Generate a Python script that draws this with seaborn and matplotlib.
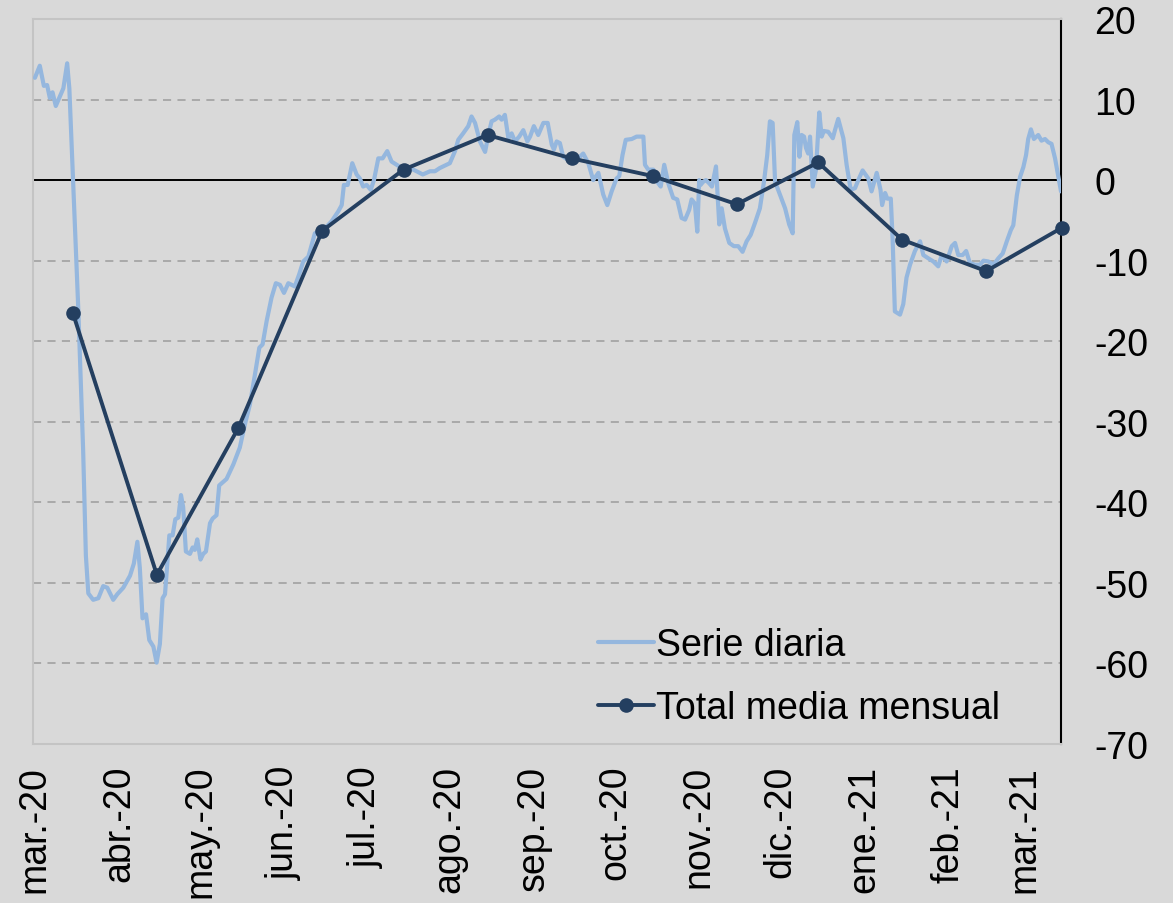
import pandas as pd
import numpy as np
import matplotlib
matplotlib.use('Agg')
import matplotlib.pyplot as plt
import seaborn as sns

# serie diaria: dias desde el 1 de marzo de 2020 y valor
start = pd.Timestamp('2020-03-01')
daily_day = [0, 1.8, 3.3, 4.5, 5.5, 6.5, 7.7, 10.5, 11.9, 12.7, 14.1, 16.0, 17.8, 18.8, 19.7,
             21.5, 23.4, 25.2, 26.7, 28.9, 30.4, 32.6, 35.1, 36.5, 37.8, 38.7, 39.7, 41.0, 42.2,
             43.7, 44.9, 46.1, 47.1, 48.0, 49.6, 50.8, 51.8, 52.9, 53.9, 54.7, 55.7, 57.2, 58.2,
             59.0, 59.9, 61.1, 62.1, 63.1, 64.6, 65.6, 67.0, 68.0, 70.7, 73.2, 75.6, 77.5, 79.3,
             81.2, 82.8, 84.0, 85.5, 87.3, 88.9, 90.4, 91.9, 93.5, 95.9, 97.5, 99.0, 100.9, 103.3,
             106.4, 109.5, 111.9, 113.2, 114.0, 115.4, 117.1, 118.7, 119.9, 121.1, 122.4, 123.9,
             125.1, 126.7, 128.3, 130.0, 131.6, 133.5, 135.3, 138.4, 140.8, 143.1, 145.8, 147.6,
             149.4, 151.9, 153.1, 155.0, 156.2, 158.0, 159.9, 161.1, 162.4, 164.2, 166.1, 167.3,
             168.5, 169.7, 171.3, 172.2, 173.4, 174.7, 175.9, 177.1, 178.7, 180.2, 181.7, 182.7,
             184.1, 185.7, 187.6, 189.2, 190.7, 191.5, 192.5, 193.7, 194.9, 196.8, 198.6, 200.5,
             202.3, 204.2, 206.0, 207.9, 209.7, 211.2, 212.8, 214.6, 215.6, 216.8, 218.0, 220.2,
             222.0, 224.5, 225.1, 226.3, 228.2, 230.0, 230.9, 232.2, 233.7, 235.5, 237.0, 238.6,
             239.9, 241.4, 242.3, 243.5, 244.4, 245.1, 245.6, 246.6, 247.6, 248.8, 249.8, 251.3,
             252.5, 253.4, 254.6, 256.2, 257.9, 259.5, 261.1, 262.6, 264.1, 265.7, 267.5, 269.0,
             270.2, 271.2, 272.2, 273.1, 274.9, 276.8, 278.3, 279.6, 280.2, 281.3, 282.1, 282.9,
             283.8, 284.5, 285.3, 286.0, 287.0, 288.2, 289.4, 290.3, 291.1, 292.7, 294.4, 295.2,
             296.4, 298.3, 299.5, 301.0, 302.6, 303.8, 305.4, 307.5, 308.7, 310.6, 312.0, 312.6,
             313.7, 314.5, 315.8, 316.5, 317.3, 319.2, 320.4, 321.6, 322.9, 324.7, 326.6, 327.8,
             329.6, 331.5, 333.3, 334.6, 336.4, 338.3, 339.5, 340.7, 342.3, 343.6, 345.0, 346.9,
             348.7, 350.0, 351.8, 353.7, 355.5, 357.1, 358.6, 360.1, 361.0, 362.3, 363.5, 364.7,
             365.7, 366.5, 367.5, 368.6, 370.2, 371.4, 372.7, 373.9, 375.1, 376.4, 378.6]
daily_value = [12.7, 14.2, 11.7, 11.8, 10.2, 10.9, 9.2, 11.4, 14.5, 11.4, -0.1, -16.0, -33.6, -46.6, -51.3,
               -52.1, -51.9, -50.4, -50.6, -52.1, -51.4, -50.6, -49.1, -47.6, -44.9, -48.1, -54.4, -53.9, -57.1,
               -57.9, -59.9, -57.6, -51.9, -51.4, -44.1, -44.1, -42.1, -41.9, -39.1, -40.6, -46.1, -46.4, -45.6,
               -45.9, -44.6, -47.1, -46.4, -46.1, -42.6, -42.0, -41.6, -37.9, -37.1, -35.3, -33.2, -30.3, -27.9,
               -24.1, -20.8, -20.4, -17.5, -14.6, -12.8, -13.0, -14.0, -12.8, -13.2, -11.7, -10.1, -9.5, -6.6,
               -6.2, -5.1, -3.9, -3.1, -0.6, -0.6, 2.1, 0.7, 0.2, -0.8, -0.6, -1.2,
               0.0, 2.7, 2.7, 3.6, 2.3, 1.9, 1.5, 1.5, 1.1, 0.7, 1.1, 1.1,
               1.5, 1.9, 2.1, 3.6, 5.0, 5.8, 6.7, 7.9, 7.1, 4.8, 3.5, 5.6,
               7.3, 7.5, 7.9, 7.5, 8.1, 5.2, 5.8, 4.8, 5.4, 6.2, 4.8, 5.4,
               6.7, 5.6, 7.1, 7.1, 4.4, 3.8, 4.8, 4.6, 2.9, 2.5, 3.1, 2.7,
               3.3, 2.1, 0.0, 0.9, -1.8, -3.1, -1.4, 0.2, 0.5, 3.1, 5.0, 5.1,
               5.4, 5.4, 1.9, 1.3, 1.3, -0.4, -0.8, 1.9, -0.4, -2.2, -2.4, -4.7,
               -4.9, -3.7, -2.4, -2.9, -6.4, 0.0, -0.6, -0.2, 0.0, -0.4, -0.8, 1.7,
               -5.5, -3.5, -6.0, -7.8, -8.2, -8.2, -8.9, -7.6, -6.8, -5.3, -3.5, -0.2,
               3.1, 7.3, 7.1, -0.2, -1.8, -3.5, -5.5, -6.6, 5.6, 7.2, 2.9, 5.6,
               5.4, 4.0, 3.3, 5.4, -0.8, 1.3, 8.4, 5.4, 6.1, 6.0, 5.2, 6.2,
               7.6, 5.2, 1.9, -1.2, -1.0, 0.0, 1.2, 0.2, -1.4, 0.9, -1.2, -3.1,
               -1.6, -2.3, -2.3, -7.6, -16.3, -16.7, -15.4, -12.1, -10.5, -8.8, -7.6, -9.3,
               -9.7, -10.1, -10.7, -9.3, -10.1, -8.2, -7.8, -9.3, -9.3, -8.8, -10.3, -10.5,
               -10.5, -10.0, -10.1, -10.5, -9.7, -9.1, -7.6, -6.2, -5.6, -1.9, 0.4, 1.6,
               3.1, 5.1, 6.3, 5.1, 5.6, 4.9, 5.1, 4.7, 4.5, 2.7, -1.4]

# media mensual (a mitad de mes)
month_dates = ['2020-03-15', '2020-04-15', '2020-05-15', '2020-06-15', '2020-07-15', '2020-08-15',
               '2020-09-15', '2020-10-15', '2020-11-15', '2020-12-15', '2021-01-15', '2021-02-15',
               '2021-03-15']
month_value = [-16.5, -49.0, -30.8, -6.3, 1.3, 5.6, 2.7, 0.5, -3.0, 2.2, -7.4, -11.3, -5.9]

tick_dates = ['2020-03-01', '2020-04-01', '2020-05-01', '2020-06-01', '2020-07-01', '2020-08-01',
              '2020-09-01', '2020-10-01', '2020-11-01', '2020-12-01', '2021-01-01', '2021-02-01',
              '2021-03-01']
tick_labels = ['mar.-20', 'abr.-20', 'may.-20', 'jun.-20', 'jul.-20', 'ago.-20', 'sep.-20',
               'oct.-20', 'nov.-20', 'dic.-20', 'ene.-21', 'feb.-21', 'mar.-21']

daily = pd.DataFrame({'fecha': start + pd.to_timedelta(daily_day, unit='D'), 'valor': daily_value})
monthly = pd.DataFrame({'fecha': pd.to_datetime(month_dates), 'valor': month_value})

bg = '#d9d9d9'
light = '#95b7de'
navy = '#243f60'
fs = 27

sns.set_style('white', {'axes.facecolor': bg, 'figure.facecolor': bg})
plt.rcParams['font.family'] = ['Liberation Sans', 'DejaVu Sans']
plt.rcParams['axes.unicode_minus'] = False
plt.rcParams['text.color'] = 'black'

fig = plt.figure(figsize=(11.73, 9.04), dpi=100)
ax = fig.add_axes([33 / 1173, 1 - 745 / 904, (1061 - 33) / 1173, (745 - 20) / 904])

sns.lineplot(data=daily, x='fecha', y='valor', color=light, linewidth=3.0, label='Serie diaria', ax=ax, zorder=3)
sns.lineplot(data=monthly, x='fecha', y='valor', color=navy, linewidth=2.8, marker='o', markersize=10.5,
             markeredgewidth=0, label='Total media mensual', ax=ax, zorder=4, clip_on=False)

ax.axhline(0, color='black', lw=1.4, zorder=2)

ax.set_ylim(-70, 20)
ax.set_yticks(np.arange(-70, 21, 10))
ax.yaxis.tick_right()
ax.tick_params(axis='y', length=0, pad=24, labelsize=fs, labelcolor='black')
for lab in ax.get_yticklabels():
    lab.set_horizontalalignment('left')

ax.set_xlim(start - pd.Timedelta(hours=17), start + pd.Timedelta(days=378.6))
ax.set_xticks(pd.to_datetime(tick_dates))
ax.set_xticklabels(tick_labels, rotation=90)
ax.tick_params(axis='x', length=0, pad=15, labelsize=fs, labelcolor='black')

ax.set_xlabel('')
ax.set_ylabel('')

ax.yaxis.grid(True, color='#a6a6a6', lw=1.3, linestyle=(0, (4.5, 3.5)), zorder=1)
ax.xaxis.grid(False)
ax.set_axisbelow(True)

for side in ['left', 'top', 'bottom']:
    ax.spines[side].set_color('#c4c4c4')
    ax.spines[side].set_linewidth(1.5)
ax.spines['right'].set_color('black')
ax.spines['right'].set_linewidth(1.5)

leg = ax.legend(loc='upper left', bbox_to_anchor=(598 / 1173, 1 - 628 / 904), bbox_transform=fig.transFigure,
                frameon=False, fontsize=fs, borderpad=0, borderaxespad=0, handlelength=1.5,
                handletextpad=0.05, labelspacing=0.72)
for t in leg.get_texts():
    t.set_color('black')

fig.savefig('out.png', dpi=100, facecolor=bg)
